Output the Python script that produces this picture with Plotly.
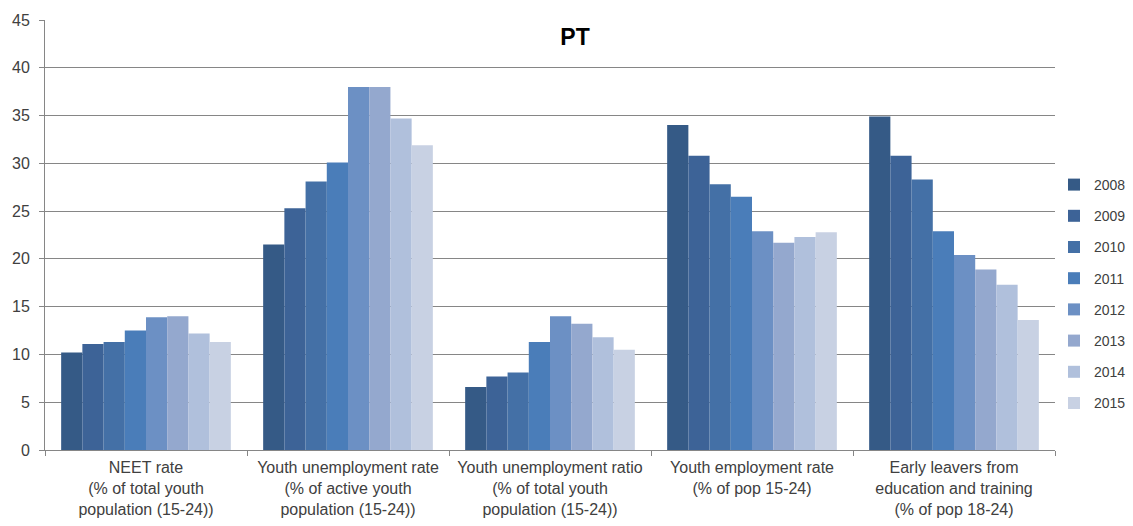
import plotly.graph_objects as go

categories = [
    "NEET rate<br>(% of total youth<br>population (15-24))",
    "Youth unemployment rate<br>(% of active youth<br>population (15-24))",
    "Youth unemployment ratio<br>(% of total youth<br>population (15-24))",
    "Youth employment rate<br>(% of pop 15-24)",
    "Early leavers from<br>education and training<br>(% of pop 18-24)",
]
years = ["2008", "2009", "2010", "2011", "2012", "2013", "2014", "2015"]

v2008 = [10.2, 21.5, 6.6, 34.0, 34.9]
v2009 = [11.1, 25.3, 7.7, 30.8, 30.8]
v2010 = [11.3, 28.1, 8.1, 27.8, 28.3]
v2011 = [12.5, 30.1, 11.3, 26.5, 22.9]
v2012 = [13.9, 38.0, 14.0, 22.9, 20.4]
v2013 = [14.0, 38.0, 13.2, 21.7, 18.9]
v2014 = [12.2, 34.7, 11.8, 22.3, 17.3]
v2015 = [11.3, 31.9, 10.5, 22.8, 13.6]
series = [v2008, v2009, v2010, v2011, v2012, v2013, v2014, v2015]

colors = ["#355A86", "#3D6397", "#4470A6", "#4A7DB9",
          "#6C90C4", "#94A8CE", "#B0C0DC", "#C8D1E3"]

fig = go.Figure()
for yr, vals, col in zip(years, series, colors):
    fig.add_trace(go.Bar(name=yr, x=categories, y=vals, marker_color=col,
                         marker_line_width=0, legendgroup=yr))

W, H = 1133, 526
font = "Liberation Sans"
fig.update_layout(
    width=W, height=H,
    paper_bgcolor="white", plot_bgcolor="white",
    margin=dict(l=45, r=78, t=20, b=76, autoexpand=False),
    barmode="group", bargap=0.16, bargroupgap=0,
    font=dict(family=font, size=15, color="#404040"),
    title=dict(text="<b>PT</b>", x=575 / W, xref="container", xanchor="center",
               y=1 - 37 / H, yref="container", yanchor="middle",
               font=dict(family=font, size=23, color="#000000")),
    legend=dict(x=1054 / W, xref="container", xanchor="left",
                y=1 - 169 / H, yref="container", yanchor="top",
                tracegroupgap=10, font=dict(size=14, color="#404040"),
                itemwidth=30, bgcolor="rgba(0,0,0,0)"),
    showlegend=True,
)
fig.update_xaxes(showline=True, linecolor="#868686", linewidth=1,
                 ticks="outside", tickson="boundaries", ticklen=5,
                 tickcolor="#868686", showgrid=False, automargin=False,
                 ticklabelstandoff=3,
                 tickfont=dict(size=16, color="#404040"))
fig.update_yaxes(range=[0, 45], dtick=5, showline=True, linecolor="#868686",
                 linewidth=1, ticks="outside", ticklen=5, tickcolor="#868686",
                 showgrid=True, gridcolor="#868686", gridwidth=1,
                 zeroline=False, automargin=False, ticklabelstandoff=6,
                 tickfont=dict(size=16, color="#404040"))

fig.write_html(
    "out.html",
    config={"displayModeBar": False},
    post_script="document.body.style.margin='0';document.body.style.overflow='hidden';",
)
